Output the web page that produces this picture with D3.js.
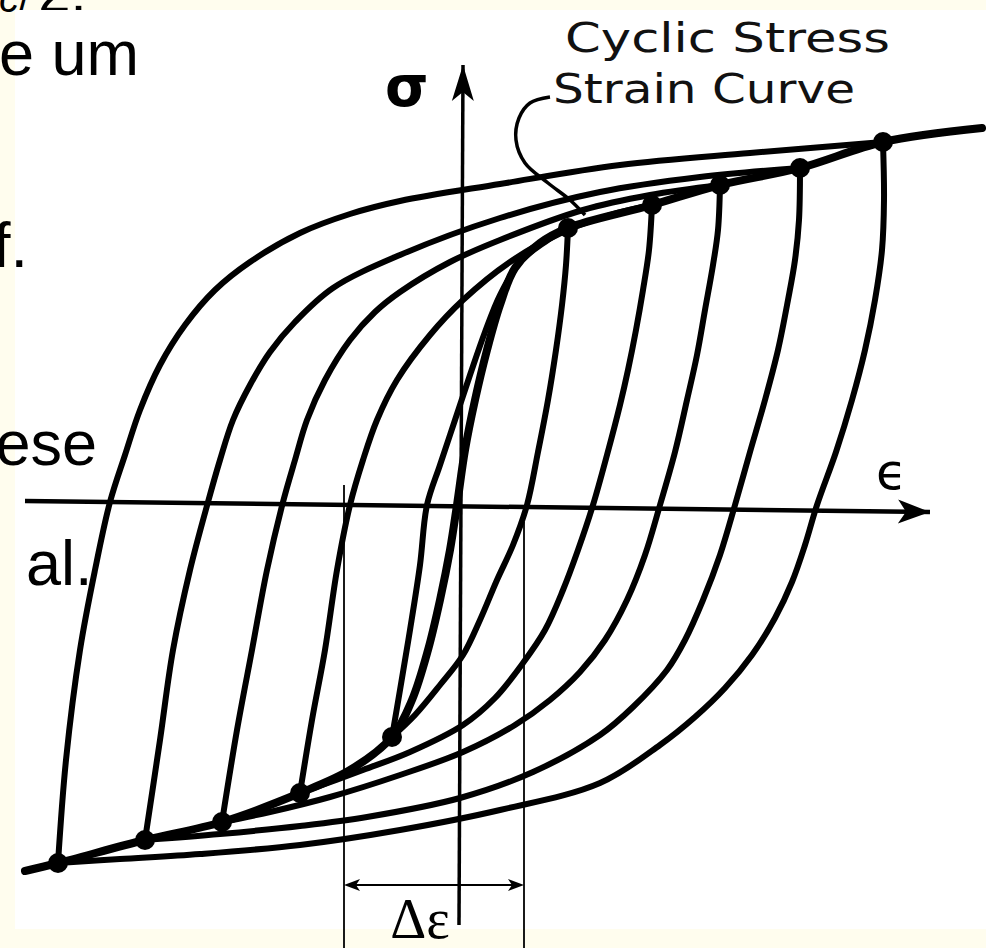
<!DOCTYPE html>
<html>
<head>
<meta charset="utf-8">
<script src="https://cdn.jsdelivr.net/npm/d3@7/dist/d3.min.js"></script>
<style>
  html, body { margin: 0; padding: 0; background: #FFFDEE; }
  svg { display: block; }
</style>
</head>
<body>
<svg id="chart" width="986" height="948"></svg>
<script>
// Strain (ε, scaled units) and stress (σ, scaled units) of the hysteresis loops.
// Each loop has a loading branch (lower tip -> upper tip) and an unloading branch.
const loop1Up = [[-4.02,-3.58],[-3.94,-2.55],[-3.80,-1.45],[-3.65,-0.65],[-3.50,0.03],[-3.35,0.50],[-3.20,0.95],[-3.00,1.40],[-2.75,1.80],[-2.45,2.15],[-2.10,2.43],[-1.60,2.72],[-1.10,2.91],[-0.60,3.04],[0.40,3.21],[1.60,3.40],[2.90,3.52],[4.23,3.63]];
const loop1Down = [[4.23,3.63],[4.24,3.05],[4.22,2.55],[4.15,2.05],[4.05,1.55],[3.92,1.05],[3.76,0.53],[3.57,0.00],[3.45,-0.40],[3.32,-0.77],[3.15,-1.13],[2.92,-1.50],[2.65,-1.83],[2.35,-2.12],[2.00,-2.40],[1.40,-2.78],[0.40,-3.05],[-0.60,-3.25],[-1.60,-3.40],[-2.60,-3.49],[-3.40,-3.54],[-4.02,-3.58]];
const loop2Up = [[-3.15,-3.35],[-3.00,-2.35],[-2.87,-1.45],[-2.70,-0.65],[-2.52,0.03],[-2.40,0.45],[-2.27,0.85],[-2.10,1.20],[-1.90,1.53],[-1.65,1.83],[-1.27,2.17],[-0.60,2.50],[0.40,2.87],[1.40,3.13],[2.40,3.28],[3.40,3.37]];
const loop2Down = [[3.40,3.37],[3.39,2.85],[3.35,2.45],[3.28,2.05],[3.18,1.55],[3.05,1.05],[2.90,0.53],[2.75,0.00],[2.60,-0.50],[2.43,-0.95],[2.25,-1.35],[2.07,-1.65],[1.73,-2.02],[1.40,-2.30],[0.73,-2.67],[0.00,-2.93],[-0.93,-3.12],[-1.60,-3.21],[-2.40,-3.29],[-3.15,-3.35]];
const loop3Up = [[-2.38,-3.17],[-2.23,-2.25],[-2.08,-1.45],[-1.93,-0.65],[-1.77,0.03],[-1.65,0.45],[-1.53,0.85],[-1.35,1.25],[-1.10,1.65],[-0.85,1.93],[-0.60,2.13],[-0.10,2.43],[0.40,2.65],[1.23,2.95],[1.90,3.10],[2.60,3.20]];
const loop3Down = [[2.60,3.20],[2.58,2.75],[2.53,2.40],[2.45,1.95],[2.37,1.50],[2.27,1.05],[2.15,0.53],[2.00,0.00],[1.85,-0.50],[1.67,-0.95],[1.45,-1.35],[1.20,-1.67],[0.90,-1.95],[0.55,-2.20],[0.03,-2.47],[-0.60,-2.70],[-1.30,-2.92],[-1.90,-3.07],[-2.38,-3.17]];
const loop4Up = [[-1.60,-2.88],[-1.48,-2.15],[-1.35,-1.45],[-1.23,-0.65],[-1.10,0.00],[-0.97,0.45],[-0.83,0.85],[-0.63,1.25],[-0.30,1.70],[0.03,2.05],[0.50,2.43],[1.03,2.73],[1.50,2.90],[1.92,3.00]];
const loop4Down = [[1.92,3.00],[1.89,2.55],[1.83,2.15],[1.76,1.75],[1.68,1.35],[1.60,1.00],[1.47,0.50],[1.33,0.00],[1.18,-0.45],[1.03,-0.85],[0.85,-1.25],[0.63,-1.58],[0.35,-1.93],[0.03,-2.20],[-0.50,-2.47],[-0.97,-2.65],[-1.60,-2.88]];
const loop5Up = [[-0.68,-2.32],[-0.60,-1.85],[-0.50,-1.25],[-0.40,-0.60],[-0.33,0.00],[-0.20,0.40],[-0.05,0.85],[0.10,1.30],[0.25,1.73],[0.40,2.10],[0.60,2.43],[0.85,2.63],[1.08,2.77]];
const loop5Down = [[1.08,2.77],[1.06,2.40],[1.02,2.00],[0.96,1.55],[0.88,1.05],[0.78,0.53],[0.67,0.00],[0.53,-0.40],[0.37,-0.75],[0.20,-1.15],[0.03,-1.50],[-0.20,-1.80],[-0.45,-2.10],[-0.68,-2.32]];

// Cyclic stress-strain curve through the loop tips
const cyclicCurve = [[-4.35,-3.66],[-4.02,-3.58],[-3.15,-3.35],[-2.38,-3.17],[-1.60,-2.88],[-1.10,-2.65],[-0.68,-2.32],[-0.48,-1.95],[-0.32,-1.45],[-0.20,-0.95],[-0.10,-0.45],[-0.03,0.00],[0.05,0.55],[0.15,1.05],[0.27,1.55],[0.40,2.00],[0.55,2.37],[0.80,2.62],[1.08,2.77],[1.92,3.00],[2.60,3.20],[3.40,3.37],[4.23,3.63],[5.22,3.77]];

// Loop tips (stabilised peak points)
const upperTips = [[4.23,3.63],[3.40,3.37],[2.60,3.20],[1.92,3.00],[1.08,2.77]];
const lowerTips = [[-4.02,-3.58],[-3.15,-3.35],[-2.38,-3.17],[-1.60,-2.88],[-0.68,-2.32]];

// Axes (hand-drawn, slightly tilted)
const strainAxis = [[-4.35,0.04],[4.70,-0.07]];
const stressAxis = [[-0.01,-4.20],[0.03,4.40]];

// Leader from the label to the cyclic curve
const leader = [[0.90,4.08],[0.70,4.02],[0.59,3.87],[0.56,3.65],[0.65,3.42],[0.88,3.22],[1.10,3.05],[1.25,2.90]];

// Strain range marker
const rangeLeft = -1.16, rangeRight = 0.64;
const rangeLeftTop = 0.20, rangeRightTop = -0.17, rangeBottom = -4.43, rangeArrowAt = -3.80;

const labelLine1 = "Cyclic Stress";
const labelLine2 = "Strain Curve";
const slideLines = [
  { text: "de um", x: 139, base: 75, anchor: "end" },
  { text: "f.", x: 28, base: 267, anchor: "end" },
  { text: "ese", x: 97, base: 465, anchor: "end" },
  { text: "al.", x: 26, base: 585, anchor: "start" }
];

const W = 986, H = 948;
const svg = d3.select("#chart");

const x = d3.scaleLinear().domain([-4.6, 5.26]).range([0, W]);
const y = d3.scaleLinear().domain([5.05, -4.43]).range([0, H]);

// Slide background and the cut-off heading above the figure
svg.append("rect").attr("width", W).attr("height", H).attr("fill", "#FFFDEE");
const head = svg.append("text").attr("x", -1).attr("y", 12)
  .attr("font-family", "Liberation Sans, Arial, sans-serif").attr("fill", "#000");
head.append("tspan").attr("font-size", 40).attr("font-style", "italic").text("c");
head.append("tspan").attr("font-size", 40).text("/");
head.append("tspan").attr("font-size", 58).attr("dx", 8).text("2.");

// Figure area
svg.append("rect").attr("x", 15).attr("y", 10).attr("width", W - 15).attr("height", 919).attr("fill", "#FFFFFF");

// Body text of the slide, clipped at the left edge
svg.append("g").selectAll("text").data(slideLines).join("text")
  .attr("x", d => d.x).attr("y", d => d.base)
  .attr("text-anchor", d => d.anchor)
  .attr("font-family", "Liberation Sans, Arial, sans-serif")
  .attr("font-size", 63).attr("fill", "#000")
  .text(d => d.text);

const line = d3.line().x(d => x(d[0])).y(d => y(d[1])).curve(d3.curveCatmullRom.alpha(0.5));
const straight = d3.line().x(d => x(d[0])).y(d => y(d[1]));

const g = svg.append("g");

// Axes
g.append("path").attr("d", straight(strainAxis)).attr("stroke", "#000").attr("stroke-width", 4.5).attr("fill", "none");
g.append("path").attr("d", straight(stressAxis)).attr("stroke", "#000").attr("stroke-width", 3.5).attr("fill", "none");

function arrowHead(tip, from, len, half) {
  const tx = x(tip[0]), ty = y(tip[1]);
  const fx = x(from[0]), fy = y(from[1]);
  const a = Math.atan2(ty - fy, tx - fx);
  const bx = tx - len * Math.cos(a), by = ty - len * Math.sin(a);
  const px = -Math.sin(a) * half, py = Math.cos(a) * half;
  return `M${tx},${ty}L${bx + px},${by + py}L${bx + len * 0.25 * Math.cos(a)},${by + len * 0.25 * Math.sin(a)}L${bx - px},${by - py}Z`;
}
g.append("path").attr("d", arrowHead(strainAxis[1], strainAxis[0], 32, 12)).attr("fill", "#000");
g.append("path").attr("d", arrowHead(stressAxis[1], stressAxis[0], 36, 11)).attr("fill", "#000");

// Loops
const branches = [loop1Up, loop1Down, loop2Up, loop2Down, loop3Up, loop3Down, loop4Up, loop4Down, loop5Up, loop5Down];
g.append("g").selectAll("path").data(branches).join("path")
  .attr("d", line)
  .attr("fill", "none").attr("stroke", "#000").attr("stroke-width", 6)
  .attr("stroke-linecap", "round").attr("stroke-linejoin", "round");

// Cyclic stress-strain curve
g.append("path").attr("d", line(cyclicCurve))
  .attr("fill", "none").attr("stroke", "#000").attr("stroke-width", 8)
  .attr("stroke-linecap", "round");

// Tip markers
g.append("g").selectAll("circle").data(upperTips.concat(lowerTips)).join("circle")
  .attr("cx", d => x(d[0])).attr("cy", d => y(d[1])).attr("r", 10).attr("fill", "#000");

// Leader and label
g.append("path").attr("d", line(leader)).attr("fill", "none").attr("stroke", "#000").attr("stroke-width", 3.5);
g.append("text").attr("x", 565).attr("y", 52)
  .attr("font-family", "DejaVu Sans, sans-serif").attr("font-size", 41)
  .attr("textLength", 325).attr("lengthAdjust", "spacingAndGlyphs").attr("fill", "#111")
  .text(labelLine1);
g.append("text").attr("x", 553).attr("y", 103)
  .attr("font-family", "DejaVu Sans, sans-serif").attr("font-size", 41)
  .attr("textLength", 302).attr("lengthAdjust", "spacingAndGlyphs").attr("fill", "#111")
  .text(labelLine2);

// Axis symbols
g.append("text").attr("x", 385).attr("y", 106)
  .attr("font-family", "DejaVu Sans, sans-serif").attr("font-size", 56).attr("font-weight", "bold").attr("fill", "#000").text("σ");
g.append("text").attr("x", 876).attr("y", 489)
  .attr("font-family", "DejaVu Sans, sans-serif").attr("font-size", 50).attr("fill", "#000").text("ϵ");

// Strain range Δε
const rg = svg.append("g");
rg.append("line").attr("x1", x(rangeLeft)).attr("x2", x(rangeLeft))
  .attr("y1", y(rangeLeftTop)).attr("y2", y(rangeBottom)).attr("stroke", "#000").attr("stroke-width", 1.8);
rg.append("line").attr("x1", x(rangeRight)).attr("x2", x(rangeRight))
  .attr("y1", y(rangeRightTop)).attr("y2", y(rangeBottom)).attr("stroke", "#000").attr("stroke-width", 1.8);
rg.append("line").attr("x1", x(rangeLeft) + 10).attr("x2", x(rangeRight) - 10)
  .attr("y1", y(rangeArrowAt)).attr("y2", y(rangeArrowAt)).attr("stroke", "#000").attr("stroke-width", 1.8);
rg.append("path").attr("d", arrowHead([rangeLeft, rangeArrowAt], [rangeRight, rangeArrowAt], 16, 6)).attr("fill", "#000");
rg.append("path").attr("d", arrowHead([rangeRight, rangeArrowAt], [rangeLeft, rangeArrowAt], 16, 6)).attr("fill", "#000");
rg.append("text").attr("x", (x(rangeLeft) + x(rangeRight)) / 2 - 14).attr("y", 938)
  .attr("text-anchor", "middle")
  .attr("font-family", "Liberation Serif, Times New Roman, serif").attr("font-size", 56).attr("fill", "#000")
  .text("Δε");
</script>
</body>
</html>
